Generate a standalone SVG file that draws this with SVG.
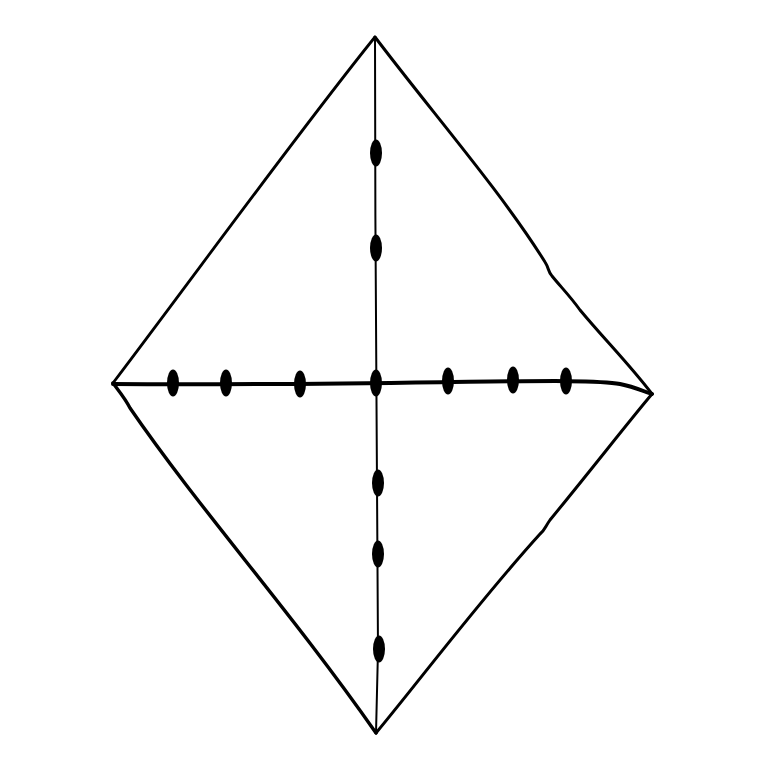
<svg xmlns="http://www.w3.org/2000/svg" width="764" height="764" viewBox="0 0 764 764">
<style>
.e{fill:none;stroke:#000;stroke-linecap:round;stroke-linejoin:round}
.d{fill:#000}
</style>
<rect width="764" height="764" fill="#fff"/>
<g id="outline">
<path class="e" stroke-width="2.8" d="M375 37 C 300 130 200 268 113 383"/>
<path class="e" stroke-width="3" d="M375 37 C 430 110 500 190 545 262 C 549 268 548 272 552 276 C 560 286 570 296 580 310 C 605 340 630 365 652 394"/>
<path class="e" stroke-width="3.4" d="M113 383 C 118 390 125 398 130 408 C 200 510 290 610 376 733"/>
<path class="e" stroke-width="3" d="M652 394 C 630 420 595 465 550 520 C 545 527 545 530 540 534 C 480 600 420 680 376 733"/>
</g>
<g id="connectors">
<path class="e" stroke-width="2" d="M375 37 C 375 250 377 500 378 650 L 376 733"/>
<path class="e" stroke-width="4" d="M113 384 C 250 385 380 383 450 382 C 540 381 600 380 620 384 C 635 387 645 392 652 394"/>
</g>
<g id="dots">
<ellipse class="d" cx="173" cy="383" rx="6" ry="13.5"/>
<ellipse class="d" cx="226" cy="383" rx="6" ry="13.5"/>
<ellipse class="d" cx="300" cy="384" rx="6" ry="13.5"/>
<ellipse class="d" cx="376" cy="383" rx="6" ry="13.5"/>
<ellipse class="d" cx="448" cy="381" rx="6" ry="13.5"/>
<ellipse class="d" cx="513" cy="380" rx="6" ry="13.5"/>
<ellipse class="d" cx="566" cy="381" rx="6" ry="13.5"/>
<ellipse class="d" cx="376" cy="153" rx="6" ry="13.5"/>
<ellipse class="d" cx="376" cy="248" rx="6" ry="13.5"/>
<ellipse class="d" cx="378" cy="483" rx="6" ry="13.5"/>
<ellipse class="d" cx="378" cy="554" rx="6" ry="13.5"/>
<ellipse class="d" cx="379" cy="649" rx="6" ry="13.5"/>
</g>
</svg>
